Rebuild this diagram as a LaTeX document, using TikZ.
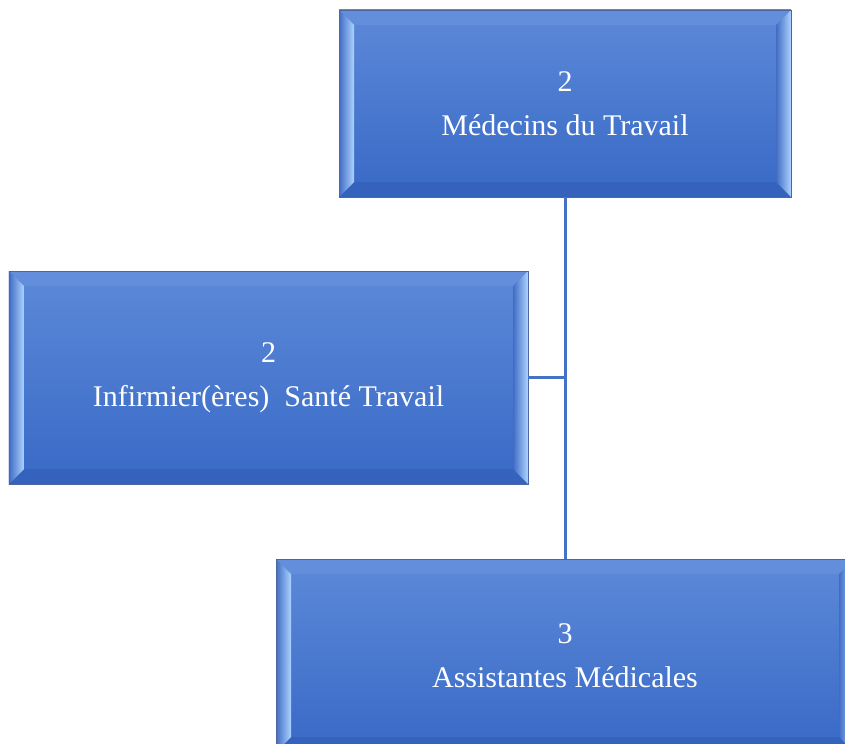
\documentclass[tikz,border=0pt]{standalone}
\usepackage{fontspec}
\setmainfont{Liberation Serif}
\usetikzlibrary{positioning}
\definecolor{facetop}{RGB}{93,137,216}
\definecolor{facebot}{RGB}{56,105,198}
\definecolor{bevlight}{RGB}{172,212,255}
\definecolor{bevdark}{RGB}{66,108,196}
\definecolor{bevtop}{RGB}{98,142,220}
\definecolor{bevbot}{RGB}{52,98,188}
\definecolor{boxedge}{RGB}{78,102,158}
\definecolor{linkblue}{RGB}{68,114,196}
\newcommand{\bevelw}{15bp}

\tikzset{
  orgbox/.style={
    rectangle, draw=boxedge, line width=0.75bp,
    top color=facetop, bottom color=facebot,
    text=white, align=center, inner sep=0pt,
    font=\fontsize{30bp}{44bp}\selectfont,
    path picture={
      \coordinate (bsw) at (path picture bounding box.south west);
      \coordinate (bnw) at (path picture bounding box.north west);
      \coordinate (bse) at (path picture bounding box.south east);
      \coordinate (bne) at (path picture bounding box.north east);
      \fill[bevtop] (bnw) -- (bne) -- ([xshift=-\bevelw,yshift=-\bevelw]bne)
        -- ([xshift=\bevelw,yshift=-\bevelw]bnw) -- cycle;
      \fill[bevbot] (bsw) -- (bse) -- ([xshift=-\bevelw,yshift=\bevelw]bse)
        -- ([xshift=\bevelw,yshift=\bevelw]bsw) -- cycle;
      \shade[left color=bevdark, right color=bevlight]
        (bsw) -- (bnw) -- ([xshift=\bevelw,yshift=-\bevelw]bnw)
        -- ([xshift=\bevelw,yshift=\bevelw]bsw) -- cycle;
      \shade[left color=bevdark, right color=bevlight]
        (bse) -- (bne) -- ([xshift=-\bevelw,yshift=-\bevelw]bne)
        -- ([xshift=-\bevelw,yshift=\bevelw]bse) -- cycle;
    }
  },
  link/.style={draw=linkblue, line width=3bp}
}

\begin{document}
\begin{tikzpicture}[x=1bp, y=-1bp]
\clip (0,0) rectangle (845,744);

\node[orgbox, minimum width=452bp, minimum height=187bp] (medecins) at (565,103.5)
  {2\\Médecins du Travail};
\node[orgbox, minimum width=519bp, minimum height=213bp] (infirmiers) at (268.5,377.5)
  {2\\Infirmier(ères)~~Santé Travail};
\node[orgbox, minimum width=578bp, minimum height=193bp] (assistantes) at (565,655.5)
  {3\\Assistantes Médicales};

\draw[link] (medecins.south) -- (assistantes.north);
\draw[link] (infirmiers.east) -- (infirmiers.east -| medecins.south);
\end{tikzpicture}
\end{document}
